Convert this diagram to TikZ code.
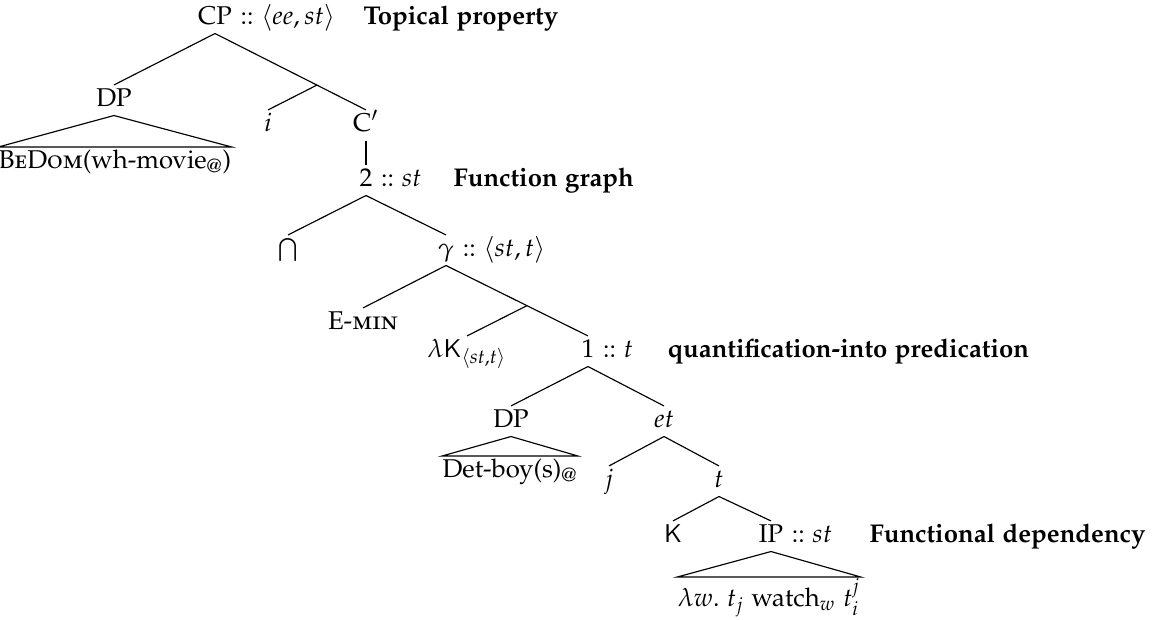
\documentclass[tikz,border=0pt]{standalone}
\usepackage[T1]{fontenc}
\usepackage[sc]{mathpazo}
\usetikzlibrary{calc}
\begin{document}
\begin{tikzpicture}[x=0.389pt,y=-0.389pt,
  cat/.style={inner xsep=0pt,inner ysep=1pt,text height=7pt,text depth=2.5pt,anchor=base},
  roof/.style={inner xsep=0pt,inner ysep=1pt,text height=7pt,text depth=2.5pt,anchor=north},
  ann/.style={inner sep=0pt,anchor=base west},
  lab/.style={inner sep=0pt,anchor=base west,font=\bfseries},
  br/.style={line width=0.45pt}]
\useasboundingbox (0,0) rectangle (1162,619);
% nodes
\node[cat] (cp) at (215,24) {CP};
\node[ann] (cpa) at (cp.base east) {\kern.3em::\kern.3em$\langle ee, st\rangle$};
\node[lab] (l1) at (363,24) {Topical property};
\node[cat] (dpU) at (114,106) {DP};
\node[roof] (bedom) at (115,147) {\textsc{BeDom}(wh-movie\textsubscript{@})};
\node[cat] (i) at (268,131) {$i$};
\node[cat] (cq) at (366,131) {C$'$};
\node[cat] (two) at (366,186) {2};
\node[ann] (twoa) at (two.base east) {\kern.3em::\kern.3em$st$};
\node[lab] (l2) at (453,186) {Function graph};
\node[cat] (cap) at (288,256) {$\bigcap$};
\node[cat] (gam) at (446,256) {$\gamma$};
\node[ann] (gama) at (gam.base east) {\kern.3em::\kern.3em$\langle st, t\rangle$};
\node[cat] (emin) at (363,329) {E-\textsc{min}};
\node[cat] (lk) at (467,357) {$\lambda\mathsf{K}_{\langle st,t\rangle}$};
\node[cat] (one) at (588,357) {1};
\node[ann] (onea) at (one.base east) {\kern.3em::\kern.3em$t$};
\node[lab] (l3) at (667,357) {quantification-into predication};
\node[cat] (dpL) at (511,427) {DP};
\node[roof] (detboy) at (510,456) {Det-boy(s)\textsubscript{@}};
\node[cat] (et) at (664,427) {$et$};
\node[cat] (j) at (609,487) {$j$};
\node[cat] (t) at (719,487) {$t$};
\node[cat] (K) at (673,542) {$\mathsf{K}$};
\node[cat] (ip) at (771,542) {IP};
\node[ann] (ipa) at (ip.base east) {\kern.3em::\kern.3em$st$};
\node[lab] (l4) at (869,542) {Functional dependency};
\node[inner xsep=0pt,inner ysep=0.3pt,anchor=north] (lam) at (769,577) {$\lambda w.\ t_j$ watch$_w$ $t_i^j$};
% branching points
\coordinate (b1) at ($(cp.south)!0.675!(cq.north)$);
\coordinate (b2) at ($(gam.south)!0.57!(one.north)$);
% edges
\draw[br] (cp.south) -- (dpU.north);
\draw[br] (cp.south) -- (cq.north);
\draw[br] (b1) -- (i.north);
\draw[br] (bedom.north west) -- (dpU.south) -- (bedom.north east) -- cycle;
\draw[br] (cq.south) -- (two.north);
\draw[br] (two.south) -- (cap.north);
\draw[br] (two.south) -- (gam.north);
\draw[br] (gam.south) -- (emin.north);
\draw[br] (gam.south) -- (one.north);
\draw[br] (b2) -- (lk.north);
\draw[br] (one.south) -- (dpL.north);
\draw[br] (one.south) -- (et.north);
\draw[br] (detboy.north west) -- (dpL.south) -- (detboy.north east) -- cycle;
\draw[br] (et.south) -- (j.north);
\draw[br] (et.south) -- (t.north);
\draw[br] (t.south) -- (K.north);
\draw[br] (t.south) -- (ip.north);
\draw[br] (lam.north west) -- (ip.south) -- (lam.north east) -- cycle;
\end{tikzpicture}
\end{document}
